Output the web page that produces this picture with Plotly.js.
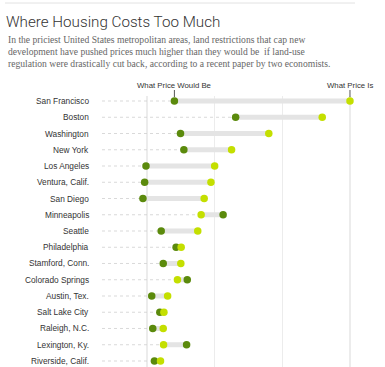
<!DOCTYPE html>
<html><head><meta charset="utf-8">
<script src="https://cdn.plot.ly/plotly-3.0.1.min.js"></script>
<style>html,body{margin:0;padding:0;background:#fff}#c{width:385px;height:367px}</style>
</head><body><div id="c"></div>
<script>
// Values in thousands of dollars
const cities = ["San Francisco","Boston","Washington","New York","Los Angeles","Ventura, Calif.","San Diego","Minneapolis","Seattle","Philadelphia","Stamford, Conn.","Colorado Springs","Austin, Tex.","Salt Lake City","Raleigh, N.C.","Lexington, Ky.","Riverside, Calif."];
const wouldBe = [281,462,299,309,197,193,188,425,242,286,248,319,214,238,217,317,222];
const actual  = [800,718,560,450,400,389,369,360,350,301,300,290,261,250,248,249,240];
const gridVals = [200,400,600,800];
const subtitleLines = [
  "In the priciest United States metropolitan areas, land restrictions that cap new",
  "development have pushed prices much higher than they would be  if land-use",
  "regulation were drastically cut back, according to a recent paper by two economists."
];

const X0 = 67, X1 = 903.5;
const DARK = "#5b8a0c", LIGHT = "#c4df00";

const idx = cities.map((_,i)=>i);
const dotX = [], dotY = [], barX = [], barY = [];
cities.forEach((c,i)=>{
  const lo = Math.min(wouldBe[i], actual[i]), hi = Math.max(wouldBe[i], actual[i]);
  dotX.push(X0, lo, null); dotY.push(i, i, null);
  barX.push(lo, hi, null); barY.push(i, i, null);
});

const traces = [
  {x: dotX, y: dotY, mode: "lines", line: {color: "#cfcfcf", width: 0.8, dash: "dot"}, hoverinfo: "skip", showlegend: false},
  {x: barX, y: barY, mode: "lines", line: {color: "#e4e4e4", width: 5}, hoverinfo: "skip", showlegend: false},
  {x: wouldBe, y: idx, mode: "markers", marker: {color: DARK, size: 7.5}, name: "What Price Would Be", showlegend: false},
  {x: actual, y: idx, mode: "markers", marker: {color: LIGHT, size: 7.5}, name: "What Price Is", showlegend: false}
];

const L = 102, PW = 283, T = 96, PH = 271;
const px = v => (v - L) / PW;          // pixel -> paper x
const py = v => 1 - (v - T) / PH;      // pixel -> paper y

const annotations = cities.map((c,i)=>({
  text: c, x: px(91), xref: "paper", xanchor: "right", y: i, yref: "y", yanchor: "middle",
  showarrow: false, font: {family: "Liberation Sans, Arial, sans-serif", size: 8.3, color: "#333"}
}));
annotations.push({
  text: "What Price Would Be", x: wouldBe[0], xref: "x", xanchor: "center", y: py(85), yref: "paper", yanchor: "middle",
  showarrow: false, font: {family: "Liberation Sans, Arial, sans-serif", size: 7.8, color: "#333"}
});
annotations.push({
  text: "What Price Is", x: actual[0], xref: "x", xanchor: "center", y: py(85), yref: "paper", yanchor: "middle",
  showarrow: false, font: {family: "Liberation Sans, Arial, sans-serif", size: 7.8, color: "#333"}
});
subtitleLines.forEach((t,k)=>annotations.push({
  text: t, x: px(6), xref: "paper", xanchor: "left", y: py(39.5 + 12*k), yref: "paper", yanchor: "middle", align: "left",
  showarrow: false, font: {family: "Liberation Serif, Times New Roman, serif", size: 9.6, color: "#666"}
}));

const shapes = [
  {type: "line", xref: "paper", yref: "paper", x0: px(5), x1: px(355), y0: py(3), y1: py(3), line: {color: "#e2e2e2", width: 1}},
  {type: "line", xref: "x", yref: "paper", x0: wouldBe[0], x1: wouldBe[0], y0: py(90), y1: py(97), line: {color: "#555", width: 1}},
  {type: "line", xref: "x", yref: "paper", x0: actual[0], x1: actual[0], y0: py(90), y1: py(97), line: {color: "#555", width: 1}}
];

const layout = {
  width: 385, height: 367,
  margin: {l: L, r: 0, t: T, b: 0, pad: 0},
  paper_bgcolor: "#fff", plot_bgcolor: "#fff",
  title: {text: "Where Housing Costs Too Much", x: 6/385, xref: "container", xanchor: "left",
          y: 1 - 22/367, yref: "container", yanchor: "middle",
          font: {family: "Roboto, Liberation Sans, sans-serif", size: 15.2, weight: 300, color: "#333"}},
  xaxis: {range: [X0, X1], tickvals: gridVals, showticklabels: false, showgrid: true, gridcolor: "#ececec", gridwidth: 1.5,
          zeroline: false, showline: false, ticks: "", fixedrange: true},
  yaxis: {range: [16.37, -0.308], showticklabels: false, showgrid: false, zeroline: false, showline: false, ticks: "", fixedrange: true},
  annotations, shapes, showlegend: false
};
Plotly.newPlot("c", traces, layout, {displayModeBar: false, staticPlot: true});
</script></body></html>
